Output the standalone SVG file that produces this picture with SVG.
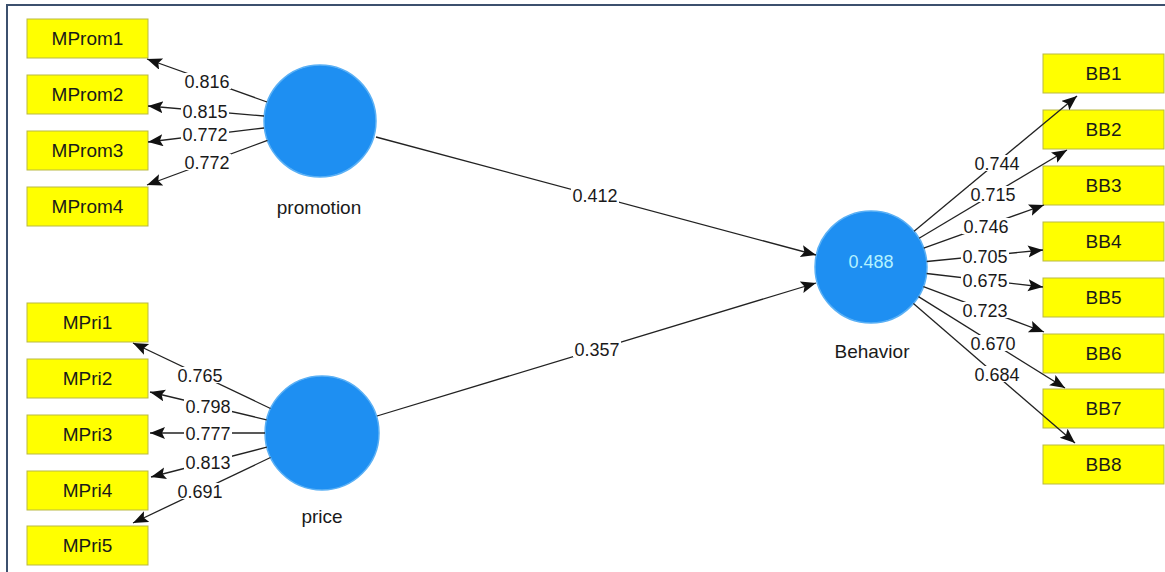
<svg xmlns="http://www.w3.org/2000/svg" width="1165" height="572" viewBox="0 0 1165 572">
<defs>
<style>
.ind rect{fill:#ffff00;stroke:#b9b944;stroke-width:1}
.ind text{font-family:"Liberation Sans",Arial,sans-serif;font-size:19px;fill:#1a1a1a;text-anchor:middle}
.lv circle{fill:#1e8ff2;stroke:#5ab0f5;stroke-width:1.5}
.lv text{font-family:"Liberation Sans",Arial,sans-serif;font-size:19px;fill:#1a1a1a;text-anchor:middle}
.lv text.r2{fill:#b4f2ff;font-size:18px}
#connectors line{stroke:#222;stroke-width:1.3;marker-end:url(#ah)}
#connectors rect{fill:#fff}
#connectors text{font-family:"Liberation Sans",Arial,sans-serif;font-size:18px;fill:#1a1a1a;text-anchor:middle}
</style>
<marker id="ah" markerUnits="userSpaceOnUse" markerWidth="18" markerHeight="14" refX="15" refY="6" orient="auto">
<path d="M0,0 L15,6 L0,12 L3,6 z" fill="#111"/>
</marker>
</defs>
<rect width="1165" height="572" fill="#fff"/>
<path d="M7,572 V5 H1165" fill="none" stroke="#3c506e" stroke-width="2"/>

<g id="MProm1" class="ind"><rect x="27" y="19" width="121" height="39"/><text x="87.5" y="45">MProm1</text></g>
<g id="MProm2" class="ind"><rect x="27" y="75" width="121" height="39"/><text x="87.5" y="101">MProm2</text></g>
<g id="MProm3" class="ind"><rect x="27" y="131" width="121" height="39"/><text x="87.5" y="157">MProm3</text></g>
<g id="MProm4" class="ind"><rect x="27" y="187" width="121" height="39"/><text x="87.5" y="213">MProm4</text></g>

<g id="MPri1" class="ind"><rect x="27" y="303" width="121" height="39"/><text x="87.5" y="329">MPri1</text></g>
<g id="MPri2" class="ind"><rect x="27" y="359" width="121" height="39"/><text x="87.5" y="385">MPri2</text></g>
<g id="MPri3" class="ind"><rect x="27" y="415" width="121" height="39"/><text x="87.5" y="441">MPri3</text></g>
<g id="MPri4" class="ind"><rect x="27" y="471" width="121" height="39"/><text x="87.5" y="497">MPri4</text></g>
<g id="MPri5" class="ind"><rect x="27" y="526" width="121" height="39"/><text x="87.5" y="552">MPri5</text></g>

<g id="BB1" class="ind"><rect x="1043" y="54" width="121" height="39"/><text x="1103.5" y="80">BB1</text></g>
<g id="BB2" class="ind"><rect x="1043" y="110" width="121" height="39"/><text x="1103.5" y="136">BB2</text></g>
<g id="BB3" class="ind"><rect x="1043" y="166" width="121" height="39"/><text x="1103.5" y="192">BB3</text></g>
<g id="BB4" class="ind"><rect x="1043" y="222" width="121" height="39"/><text x="1103.5" y="248">BB4</text></g>
<g id="BB5" class="ind"><rect x="1043" y="278" width="121" height="39"/><text x="1103.5" y="304">BB5</text></g>
<g id="BB6" class="ind"><rect x="1043" y="334" width="121" height="39"/><text x="1103.5" y="360">BB6</text></g>
<g id="BB7" class="ind"><rect x="1043" y="389" width="121" height="39"/><text x="1103.5" y="415">BB7</text></g>
<g id="BB8" class="ind"><rect x="1043" y="445" width="121" height="39"/><text x="1103.5" y="471">BB8</text></g>

<g id="promotion" class="lv"><circle cx="320" cy="121" r="56"/><text x="319" y="214">promotion</text></g>
<g id="price" class="lv"><circle cx="322" cy="433" r="57"/><text x="322" y="523">price</text></g>
<g id="Behavior" class="lv"><circle cx="871" cy="267" r="56"/><text class="r2" x="871" y="268">0.488</text><text x="872" y="358">Behavior</text></g>

<g id="connectors">
<line x1="267" y1="102" x2="147" y2="59"/><rect x="183" y="73" width="48" height="16"/><text x="207" y="87.5">0.816</text>
<line x1="264" y1="116" x2="148" y2="106"/><rect x="181" y="103" width="48" height="16"/><text x="205" y="117.5">0.815</text>
<line x1="264" y1="128" x2="148" y2="142"/><rect x="181" y="126" width="48" height="16"/><text x="205" y="140.5">0.772</text>
<line x1="267.5" y1="140.4" x2="147" y2="185"/><rect x="183" y="154" width="48" height="16"/><text x="207" y="168.5">0.772</text>

<line x1="270.5" y1="408.5" x2="133" y2="343"/><rect x="176" y="367" width="48" height="16"/><text x="200" y="381.5">0.765</text>
<line x1="266.6" y1="419.8" x2="150" y2="392"/><rect x="184" y="398" width="48" height="16"/><text x="208" y="412.5">0.798</text>
<line x1="265" y1="433" x2="150" y2="433"/><rect x="184" y="425" width="48" height="16"/><text x="208" y="439.5">0.777</text>
<line x1="266.8" y1="447.2" x2="151" y2="477"/><rect x="184" y="454" width="48" height="16"/><text x="208" y="468.5">0.813</text>
<line x1="270.5" y1="457.5" x2="133" y2="523"/><rect x="176" y="483" width="48" height="16"/><text x="200" y="497.5">0.691</text>

<line x1="376" y1="137" x2="816" y2="255"/><rect x="571" y="187" width="48" height="16"/><text x="595" y="201.5">0.412</text>
<line x1="377" y1="416" x2="816" y2="283"/><rect x="573" y="341" width="48" height="16"/><text x="597" y="355.5">0.357</text>

<line x1="914.1" y1="231.2" x2="1077" y2="96"/><rect x="973" y="155" width="48" height="16"/><text x="997" y="169.5">0.744</text>
<line x1="919.1" y1="238.3" x2="1067" y2="150"/><rect x="969" y="186" width="48" height="16"/><text x="993" y="200.5">0.715</text>
<line x1="923.7" y1="248.1" x2="1044" y2="205"/><rect x="962" y="218" width="48" height="16"/><text x="986" y="232.5">0.746</text>
<line x1="926.7" y1="261.5" x2="1043" y2="250"/><rect x="961" y="248" width="48" height="16"/><text x="985" y="262.5">0.705</text>
<line x1="926.6" y1="273.5" x2="1043" y2="287"/><rect x="961" y="272" width="48" height="16"/><text x="985" y="286.5">0.675</text>
<line x1="923.4" y1="286.7" x2="1044" y2="332"/><rect x="961" y="302" width="48" height="16"/><text x="985" y="316.5">0.723</text>
<line x1="918.5" y1="296.6" x2="1065" y2="388"/><rect x="969" y="335" width="48" height="16"/><text x="993" y="349.5">0.670</text>
<line x1="913.4" y1="303.6" x2="1075" y2="443"/><rect x="973" y="366" width="48" height="16"/><text x="997" y="380.5">0.684</text>
</g>
</svg>
